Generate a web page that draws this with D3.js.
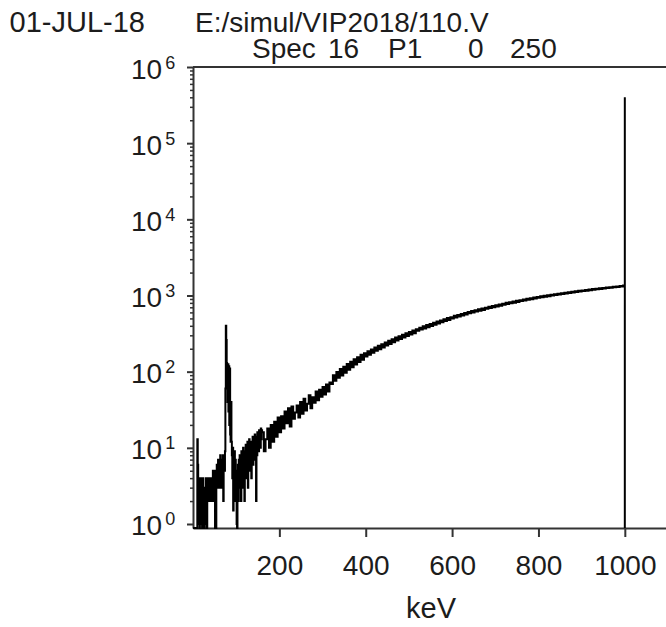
<!DOCTYPE html>
<html>
<head>
<meta charset="utf-8">
<script src="https://cdn.jsdelivr.net/npm/d3@7"></script>
<style>
  html, body { margin: 0; padding: 0; background: #fff; overflow: hidden; }
  svg { display: block; font-family: "Liberation Sans", Arial, sans-serif; }
</style>
</head>
<body>
<svg id="chart" width="666" height="627"></svg>
<script>
// ---------- data ----------
const headerDate = "01-JUL-18";
const headerFile = "E:/simul/VIP2018/110.V";
const headerSpec = ["Spec", "16", "P1", "0", "250"];
const xLabel = "keV";

// low-energy part: 1 keV channels, 0–160 keV
const lowBinWidth = 1;
const lowCounts = [
  0, 0, 0, 0, 0, 0, 0, 0, 0, 0,
  13, 6, 3, 1, 4, 0, 3, 2, 4, 1,
  3, 0, 2, 4, 1, 3, 0, 2, 3, 1,
  4, 2, 0, 3, 2, 4, 2, 3, 2, 4,
  3, 2, 4, 2, 3, 2, 5, 2, 4, 3,
  5, 0, 1, 0, 4, 6, 3, 5, 7, 4,
  6, 3, 5, 8, 4, 6, 3, 7, 5, 8,
  2, 6, 8, 5, 9, 60, 400, 260, 130, 120,
  40, 125, 30, 118, 20, 110, 15, 12, 40, 12,
  8, 4, 10, 1.5, 6, 3, 9, 2, 7, 4,
  5, 1, 0, 3, 6, 2, 7, 4, 8, 3,
  6, 2, 9, 4, 7, 3, 10, 5, 8, 2,
  9, 5, 11, 4, 8, 6, 12, 3, 9, 7,
  13, 5, 10, 7, 12, 4, 11, 8, 14, 6,
  10, 13, 7, 15, 9, 12, 2, 14, 8, 16,
  11, 15, 9, 17, 12, 16, 10, 18, 13, 17
];

// high-energy part: 4 keV channels, 160–1000 keV
const highStart = 160;
const highBinWidth = 4;
const highCounts = [
  16, 9, 13, 18, 10, 20, 12, 22, 14, 25,
  16, 26, 18, 30, 21, 33, 19, 35, 24, 29,
  36, 25, 40, 28, 44, 31, 38, 49, 33, 46,
  39, 55, 42, 58, 47, 63, 50, 68, 55, 72,
  69, 90, 76, 99, 83, 108, 89, 116, 97, 126,
  106, 135, 114, 146, 124, 155, 134, 167, 143, 175,
  158, 186, 167, 196, 177, 207, 188, 219, 197, 229,
  208, 242, 220, 255, 231, 267, 244, 280, 256, 292,
  268, 305, 281, 319, 294, 331, 307, 346, 320, 360,
  345, 378, 357, 394, 370, 409, 384, 424, 399, 440,
  414, 455, 430, 471, 447, 488, 462, 505, 478, 520,
  500, 541, 515, 556, 531, 573, 547, 590, 562, 606,
  584, 625, 598, 641, 615, 658, 630, 674, 647, 690,
  668, 712, 684, 728, 701, 745, 717, 762, 733, 779,
  757, 801, 772, 818, 789, 834, 806, 851, 823, 868,
  846, 889, 862, 905, 879, 922, 896, 938, 912, 955,
  935, 976, 950, 992, 966, 1008, 981, 1024, 997, 1040,
  1018, 1058, 1033, 1073, 1049, 1089, 1064, 1104, 1080, 1119,
  1097, 1137, 1112, 1152, 1128, 1167, 1143, 1182, 1158, 1197,
  1176, 1213, 1190, 1228, 1205, 1243, 1219, 1258, 1234, 1272,
  1252, 1288, 1266, 1302, 1280, 1316, 1294, 1330, 1309, 1356
];
const peakEnergy = 1000;
const peakCounts = 4.0e5;
const xTicks = [200, 400, 600, 800, 1000];
const yDecades = [0, 1, 2, 3, 4, 5, 6];

// ---------- layout ----------
const svg = d3.select("#chart");
const pLeft = 193, pRight = 668, pTop = 67, pBottom = 528;
const yMin = 0.886, yMax = 1e6;
const x = d3.scaleLinear().domain([0, 1100]).range([pLeft, pRight]);
const y = d3.scaleLog().domain([yMin, yMax]).range([pBottom, pTop]).clamp(true);
const ink = "#1c1c1c";
const axisInk = "#333";

// header
svg.append("text").attr("x", 145).attr("y", 32).attr("text-anchor", "end")
  .attr("font-size", 29).attr("fill", ink).text(headerDate);
svg.append("text").attr("x", 195).attr("y", 32)
  .attr("font-size", 28).attr("fill", ink).text(headerFile);
const specX = [252, 328, 388, 468, 510];
const spec = svg.append("text").attr("y", 58).attr("font-size", 28).attr("fill", ink);
headerSpec.forEach((s, i) => spec.append("tspan").attr("x", specX[i]).text(s));

// top frame line
svg.append("line").attr("x1", pLeft).attr("x2", 666).attr("y1", pTop).attr("y2", pTop)
  .attr("stroke", axisInk).attr("stroke-width", 2);

// x axis
const gx = svg.append("g").attr("transform", `translate(0,${pBottom})`)
  .call(d3.axisBottom(x).tickValues(xTicks).tickSize(9).tickSizeOuter(0).tickPadding(18).tickFormat(d3.format("d")));
gx.attr("font-family", null).attr("font-size", null);
gx.select(".domain").attr("stroke", axisInk).attr("stroke-width", 2);
gx.selectAll(".tick line").attr("stroke", axisInk).attr("stroke-width", 2);
gx.selectAll(".tick text").attr("font-size", 28).attr("fill", ink);

// y minor ticks
const minor = [];
yDecades.slice(0, -1).forEach(k => { for (let m = 2; m <= 9; m++) minor.push(m * Math.pow(10, k)); });
const gyMinor = svg.append("g").attr("transform", `translate(${pLeft},0)`)
  .call(d3.axisLeft(y).tickValues(minor).tickSize(3).tickSizeOuter(0).tickFormat(""));
gyMinor.select(".domain").remove();
gyMinor.selectAll(".tick line").attr("stroke", axisInk).attr("stroke-width", 1.5);

// y major ticks
const gy = svg.append("g").attr("transform", `translate(${pLeft},0)`)
  .call(d3.axisLeft(y).tickValues(yDecades.map(k => Math.pow(10, k))).tickSize(6).tickSizeOuter(0).tickFormat(""));
gy.attr("font-family", null).attr("font-size", null);
gy.select(".domain").attr("stroke", axisInk).attr("stroke-width", 2);
gy.selectAll(".tick line").attr("stroke", axisInk).attr("stroke-width", 2);
gy.selectAll(".tick").each(function(d) {
  const k = Math.round(Math.log10(d));
  const t = d3.select(this).append("text").attr("x", -62).attr("y", 11)
    .attr("text-anchor", "start").attr("fill", ink).attr("font-size", 28);
  t.append("tspan").text("10");
  t.append("tspan").attr("font-size", 18).attr("dx", 3).attr("dy", -10).text(String(k));
});

// x label
svg.append("text").attr("x", 431).attr("y", 618).attr("text-anchor", "middle")
  .attr("font-size", 29).attr("fill", ink).text(xLabel);

// spectrum
const pts = [];
lowCounts.forEach((c, i) => pts.push([i * lowBinWidth, Math.max(c, yMin)]));
highCounts.forEach((c, i) => pts.push([highStart + i * highBinWidth, Math.max(c, yMin)]));
pts.push([highStart + highCounts.length * highBinWidth, Math.max(highCounts[highCounts.length - 1], yMin)]);
pts.push([peakEnergy, peakCounts]);
pts.push([peakEnergy, yMin]);
const line = d3.line().x(d => x(d[0])).y(d => y(d[1])).curve(d3.curveStepAfter);
svg.append("path").datum(pts).attr("d", line)
  .attr("fill", "none").attr("stroke", "#000").attr("stroke-width", 2)
  .attr("stroke-linejoin", "miter");
</script>
</body>
</html>
